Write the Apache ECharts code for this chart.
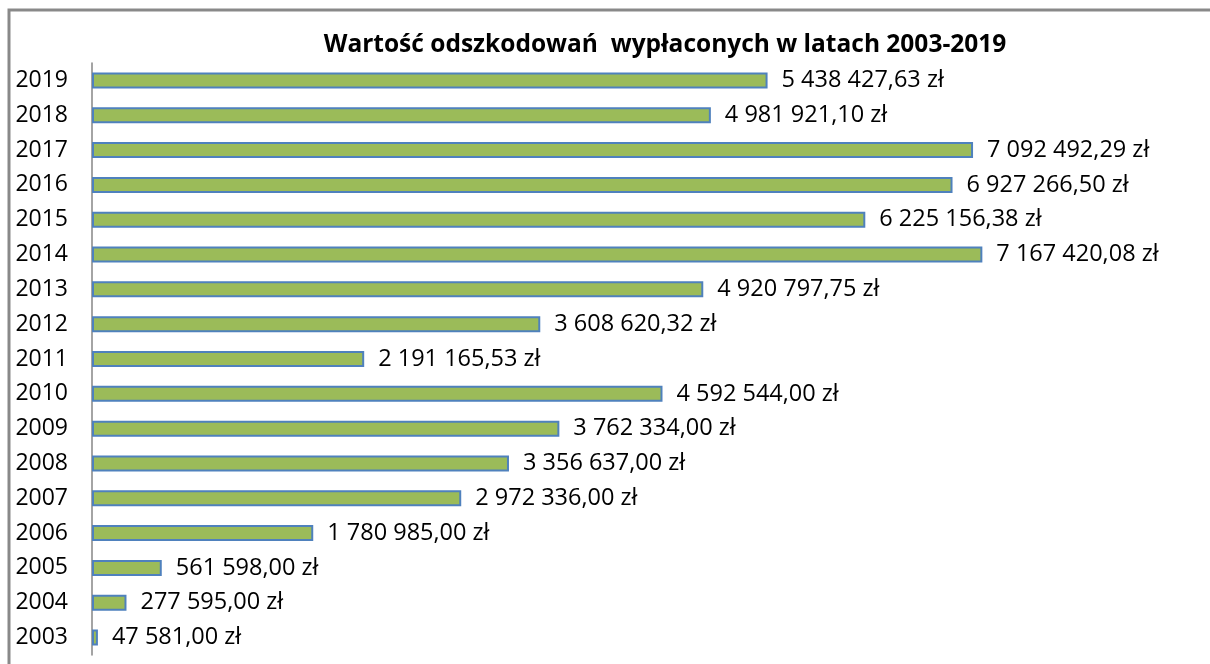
<!DOCTYPE html>
<html><head><meta charset="utf-8">
<script src="https://cdn.jsdelivr.net/npm/echarts@6/dist/echarts.min.js"></script>
<style>html,body{margin:0;padding:0;background:#fff}#c{width:1210px;height:664px}</style>
</head><body><div id="c"></div>
<script>
const years = ['2003','2004','2005','2006','2007','2008','2009','2010','2011','2012','2013','2014','2015','2016','2017','2018','2019'];
const values = [47581.00, 277595.00, 561598.00, 1780985.00, 2972336.00, 3356637.00, 3762334.00, 4592544.00, 2191165.53, 3608620.32, 4920797.75, 7167420.08, 6225156.38, 6927266.50, 7092492.29, 4981921.10, 5438427.63];
const titleText = 'Wartość odszkodowań  wypłaconych w latach 2003-2019';

function fmt(v){
  const parts = v.toFixed(2).split('.');
  const int = parts[0].replace(/\B(?=(\d{3})+(?!\d))/g, ' ');
  return int + ',' + parts[1] + ' zł';
}
const FONT = '"Open Sans", sans-serif';
const chart = echarts.init(document.getElementById('c'));
chart.setOption({
  animation:false,
  title:{text:titleText,left:660,textAlign:'center',top:28,textStyle:{fontFamily:FONT,fontWeight:'bold',fontSize:24.5,color:'#000'}},
  graphic:[{type:'rect',shape:{x:9,y:10,width:1400,height:800},style:{fill:'none',stroke:'#898989',lineWidth:3},silent:true}],
  grid:{left:92,top:63,width:1118,height:592},
  xAxis:{type:'value',min:0,max:9000000,show:false},
  yAxis:{type:'category',data:years,axisTick:{show:false},
    axisLine:{lineStyle:{color:'#868686',width:1.5}},
    axisLabel:{color:'#000',fontSize:23,fontFamily:FONT,margin:24}},
  series:[{type:'bar',data:values,barWidth:16,
    itemStyle:{color:'#9BBB59',borderColor:'#4F81BD',borderWidth:2},
    label:{show:true,position:'right',distance:14,color:'#000',fontSize:23.5,fontFamily:FONT,formatter:p=>fmt(p.value)}}]
});
</script></body></html>
